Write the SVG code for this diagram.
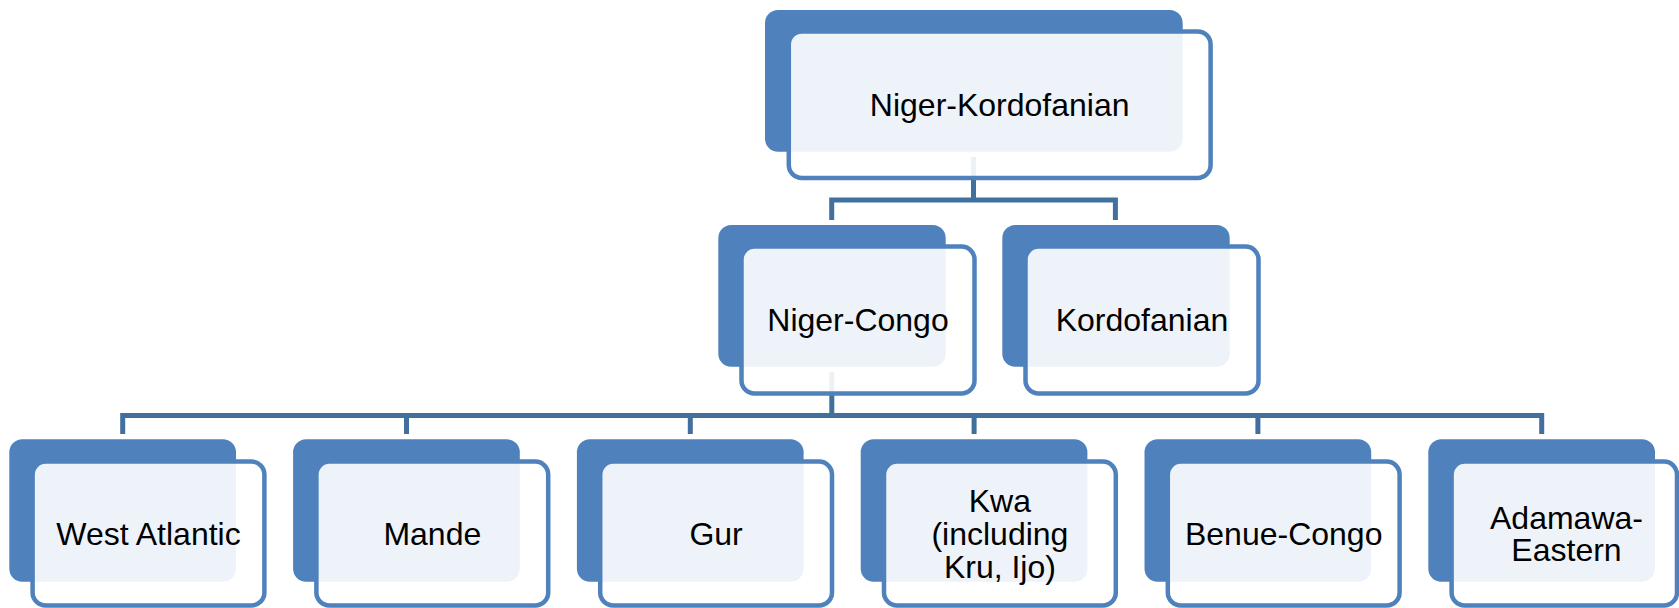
<svg xmlns="http://www.w3.org/2000/svg" width="1679" height="608" viewBox="0 0 1679 608">
  <style>
    .back { fill: #4F81BD; }
    .front { fill: #FFFFFF; fill-opacity: 0.9; stroke: #4F81BD; stroke-width: 4.5; }
    .conn { fill: none; stroke: #41709F; stroke-width: 5; stroke-linejoin: miter; }
    .lbl { font-family: "Liberation Sans", Arial, sans-serif; font-size: 32px; fill: #000000; text-anchor: middle; }
  </style>
  <rect width="1679" height="608" fill="#FFFFFF"/>
  <g id="connectors">
    <path class="conn" d="M973.5 157 V200"/>
    <path class="conn" d="M831.7 220 V200 H1115.4 V220"/>
    <path class="conn" d="M831.8 372 V415.5"/>
    <path class="conn" d="M122.7 434 V415.5 H1541.7 V434"/>
    <path class="conn" d="M406.5 434 V415.5 M690.3 434 V415.5 M974.1 434 V415.5 M1257.9 434 V415.5"/>
  </g>
  <g id="node-niger-kordofanian">
    <rect class="back" x="765" y="10" width="417.7" height="141.7" rx="13"/>
    <rect class="front" x="788.8" y="31.4" width="421.8" height="146.5" rx="13"/>
    <text class="lbl" x="999.7" y="116">Niger-Kordofanian</text>
  </g>
  <g id="node-niger-congo">
    <rect class="back" x="718.3" y="225" width="227.4" height="141.7" rx="13"/>
    <rect class="front" x="741.5" y="246.5" width="233" height="147" rx="13"/>
    <text class="lbl" x="858" y="330.5">Niger-Congo</text>
  </g>
  <g id="node-kordofanian">
    <rect class="back" x="1002.3" y="225" width="227.4" height="141.7" rx="13"/>
    <rect class="front" x="1025.5" y="246.5" width="233" height="147" rx="13"/>
    <text class="lbl" x="1142" y="330.5">Kordofanian</text>
  </g>
  <g id="node-west-atlantic">
    <rect class="back" x="9.3" y="439.3" width="226.7" height="142.4" rx="13"/>
    <rect class="front" x="32.6" y="461.5" width="231.8" height="144" rx="13"/>
    <text class="lbl" x="148.5" y="545">West Atlantic</text>
  </g>
  <g id="node-mande">
    <rect class="back" x="293.1" y="439.3" width="226.7" height="142.4" rx="13"/>
    <rect class="front" x="316.4" y="461.5" width="231.8" height="144" rx="13"/>
    <text class="lbl" x="432.3" y="545">Mande</text>
  </g>
  <g id="node-gur">
    <rect class="back" x="576.9" y="439.3" width="226.7" height="142.4" rx="13"/>
    <rect class="front" x="600.2" y="461.5" width="231.8" height="144" rx="13"/>
    <text class="lbl" x="716.1" y="545">Gur</text>
  </g>
  <g id="node-kwa">
    <rect class="back" x="860.7" y="439.3" width="226.7" height="142.4" rx="13"/>
    <rect class="front" x="884" y="461.5" width="231.8" height="144" rx="13"/>
    <text class="lbl" x="999.9" y="512">Kwa</text>
    <text class="lbl" x="999.9" y="545">(including</text>
    <text class="lbl" x="999.9" y="577.5">Kru, Ijo)</text>
  </g>
  <g id="node-benue-congo">
    <rect class="back" x="1144.5" y="439.3" width="226.7" height="142.4" rx="13"/>
    <rect class="front" x="1167.8" y="461.5" width="231.8" height="144" rx="13"/>
    <text class="lbl" x="1283.7" y="545">Benue-Congo</text>
  </g>
  <g id="node-adamawa-eastern">
    <rect class="back" x="1428.3" y="439.3" width="226.7" height="142.4" rx="13"/>
    <rect class="front" x="1451.6" y="461.5" width="225.4" height="144" rx="13"/>
    <text class="lbl" x="1566.5" y="528.5">Adamawa-</text>
    <text class="lbl" x="1566.5" y="561">Eastern</text>
  </g>
</svg>
